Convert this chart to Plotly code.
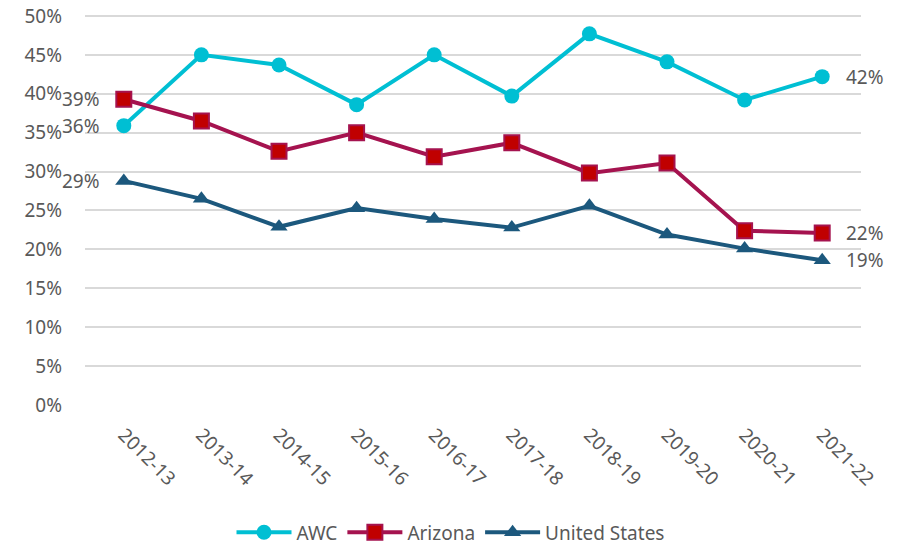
import plotly.graph_objects as go

years = ["2012-13", "2013-14", "2014-15", "2015-16", "2016-17", "2017-18",
         "2018-19", "2019-20", "2020-21", "2021-22"]
awc = [35.9, 45.0, 43.7, 38.6, 45.0, 39.7, 47.7, 44.1, 39.2, 42.2]
arizona = [39.3, 36.5, 32.6, 35.0, 31.9, 33.7, 29.8, 31.1, 22.4, 22.1]
usa = [28.8, 26.5, 22.9, 25.3, 23.9, 22.8, 25.6, 21.9, 20.1, 18.6]
y_ticks = [0, 5, 10, 15, 20, 25, 30, 35, 40, 45, 50]

FONT = "Noto Sans"
GRAY = "#595959"
FS = 19

fig = go.Figure()
series = [
    ("AWC", awc, dict(color="#00BFD3", width=4), dict(symbol="circle", size=15, color="#00BFD3")),
    ("Arizona", arizona, dict(color="#A5134F", width=4),
     dict(symbol="square", size=15, color="#C00000", line=dict(color="#A5134F", width=2))),
    ("United States", usa, dict(color="#1C587D", width=4), dict(symbol="triangle-up", size=15, color="#1C587D")),
]
for name, vals, line, marker in series:
    fig.add_trace(go.Scatter(
        x=years, y=vals, name=name, mode="lines+markers",
        line=line, marker=marker, cliponaxis=False,
    ))
    fig.add_annotation(x=years[0], y=vals[0], text=f"{round(vals[0])}%", showarrow=False,
                       xanchor="right", xshift=-22, font=dict(family=FONT, size=FS, color=GRAY))
    fig.add_annotation(x=years[-1], y=vals[-1], text=f"{round(vals[-1])}%", showarrow=False,
                       xanchor="left", xshift=22, font=dict(family=FONT, size=FS, color=GRAY))

fig.update_layout(
    width=901, height=546,
    margin=dict(l=85, r=40, t=14, b=141, autoexpand=False),
    plot_bgcolor="white", paper_bgcolor="white",
    font=dict(family=FONT, size=FS, color=GRAY),
    showlegend=True,
    legend=dict(orientation="h", x=0.5, xref="container", xanchor="center",
                y=0.025, yref="container", yanchor="middle", itemwidth=55,
                font=dict(family=FONT, size=FS, color=GRAY)),
    xaxis=dict(type="category", tickangle=45, showgrid=False, zeroline=False,
               showline=False, ticks="", tickfont=dict(size=FS, color=GRAY),
               range=[-0.5, len(years) - 0.5], automargin=False, ticklabelstandoff=14),
    yaxis=dict(range=[0, 50.25], tickvals=y_ticks, ticktext=[f"{v}%" for v in y_ticks],
               showgrid=True, gridcolor="#D9D9D9", gridwidth=1.5, zeroline=False,
               showline=False, ticks="", tickfont=dict(size=FS, color=GRAY),
               automargin=False, ticklabelstandoff=22, ticklabeloverflow="allow"),
)

fig.write_html("out.html", config={"displayModeBar": False},
               post_script="document.body.style.margin='0';document.body.style.overflow='hidden';")
